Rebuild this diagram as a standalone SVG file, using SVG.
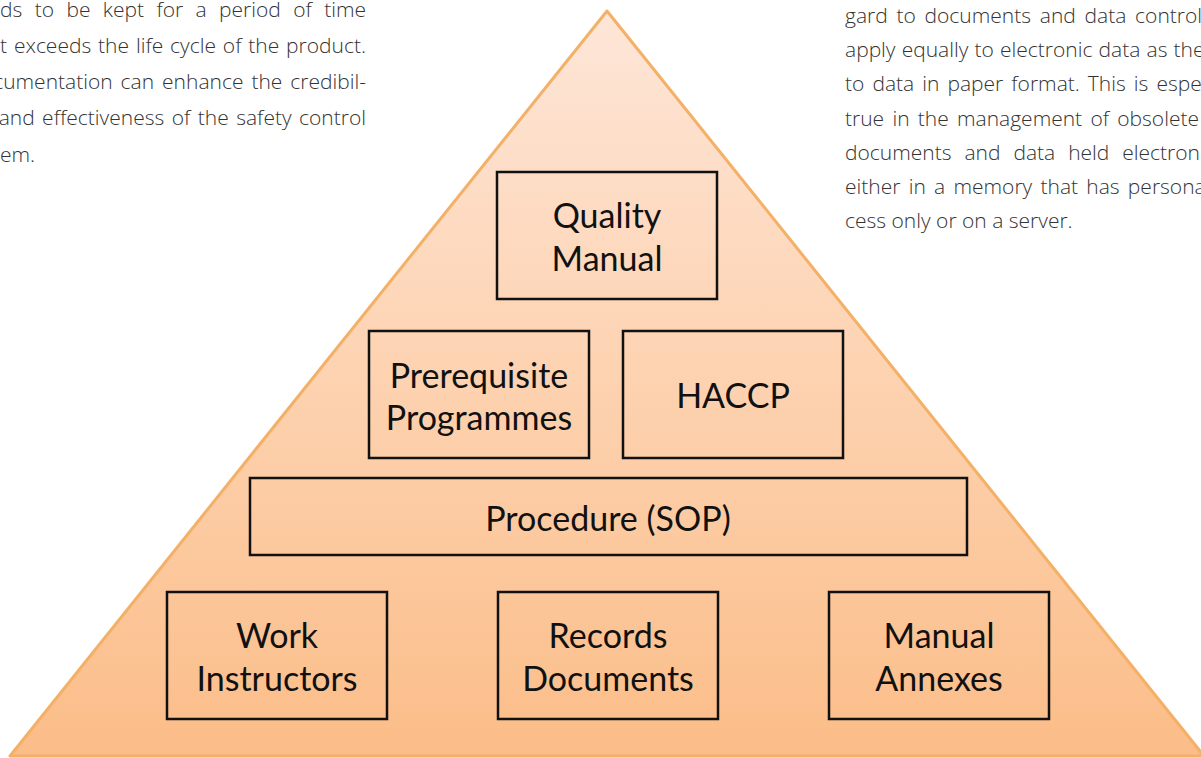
<svg xmlns="http://www.w3.org/2000/svg" width="1201" height="758" viewBox="0 0 1201 758">
<defs>
<linearGradient id="pyr" x1="0" y1="0" x2="0" y2="1">
<stop offset="0" stop-color="#fde6d8"/>
<stop offset="0.5" stop-color="#fdd2b0"/>
<stop offset="1" stop-color="#fbbd88"/>
</linearGradient>
</defs>
<style>
.para{font-family:"Open Sans","Liberation Sans",sans-serif;font-weight:300;font-size:21px;fill:#333333}
.box{fill:none;stroke:#111111;stroke-width:2.5}
.lbl{font-family:Lato,"Open Sans","Liberation Sans",sans-serif;font-size:34px;fill:#111111;text-anchor:middle}
</style>
<rect width="1201" height="758" fill="#ffffff"/>
<g id="text-left">
<text class="para" x="366" y="16.5" text-anchor="end" word-spacing="6.9">ds to be kept for a period of time</text>
<text class="para" x="366" y="53" text-anchor="end" word-spacing="1.4">t exceeds the life cycle of the product.</text>
<text class="para" x="366" y="89" text-anchor="end" word-spacing="2.5">cumentation can enhance the credibil-</text>
<text class="para" x="366" y="125" text-anchor="end" word-spacing="2">and effectiveness of the safety control</text>
<text class="para" x="0" y="161.5">em.</text>
</g>
<g id="pyramid">
<polygon points="607,11 10,756 1204,756" fill="url(#pyr)" stroke="#f3b066" stroke-width="3" stroke-linejoin="round"/>
</g>
<g id="text-right">
<text class="para" x="845" y="23" word-spacing="3.3">gard to documents and data control</text>
<text class="para" x="845" y="57.2" word-spacing="0.7">apply equally to electronic data as the</text>
<text class="para" x="845" y="91.4" word-spacing="2.6">to data in paper format. This is espe</text>
<text class="para" x="845" y="125.6" word-spacing="2.8">true in the management of obsolete</text>
<text class="para" x="845" y="159.8" word-spacing="7.5">documents and data held electron</text>
<text class="para" x="845" y="194" word-spacing="2.8">either in a memory that has persona</text>
<text class="para" x="845" y="228.2">cess only or on a server.</text>
</g>
<g id="quality-manual">
<rect class="box" x="497" y="172" width="220" height="127"/>
<text class="lbl" x="607" y="228">Quality</text>
<text class="lbl" x="607" y="271">Manual</text>
</g>
<g id="prerequisite">
<rect class="box" x="369" y="331" width="220" height="127"/>
<text class="lbl" x="479" y="388">Prerequisite</text>
<text class="lbl" x="479" y="430">Programmes</text>
</g>
<g id="haccp">
<rect class="box" x="623" y="331" width="220" height="127"/>
<text class="lbl" x="733" y="408">HACCP</text>
</g>
<g id="procedure">
<rect class="box" x="250" y="478" width="717" height="77"/>
<text class="lbl" x="608" y="531">Procedure (SOP)</text>
</g>
<g id="work">
<rect class="box" x="167" y="592" width="220" height="127"/>
<text class="lbl" x="277" y="648">Work</text>
<text class="lbl" x="277" y="691">Instructors</text>
</g>
<g id="records">
<rect class="box" x="498" y="592" width="220" height="127"/>
<text class="lbl" x="608" y="648">Records</text>
<text class="lbl" x="608" y="691">Documents</text>
</g>
<g id="annexes">
<rect class="box" x="829" y="592" width="220" height="127"/>
<text class="lbl" x="939" y="648">Manual</text>
<text class="lbl" x="939" y="691">Annexes</text>
</g>
</svg>
